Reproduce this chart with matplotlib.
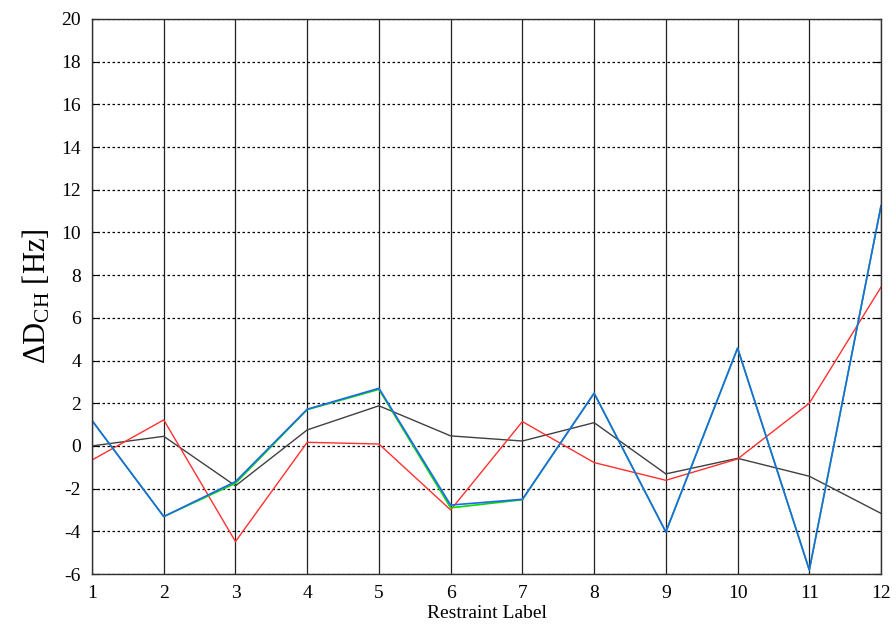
import matplotlib
matplotlib.use('Agg')
import matplotlib.pyplot as plt
import numpy as np

plt.rcParams['font.family'] = ['Liberation Serif', 'DejaVu Serif']
plt.rcParams['mathtext.fontset'] = 'custom'
plt.rcParams['mathtext.rm'] = 'Liberation Serif'
plt.rcParams['mathtext.it'] = 'Liberation Serif:italic'
plt.rcParams['axes.unicode_minus'] = False

labels = np.arange(1, 13)
# four data sets per restraint
black = [0.0, 0.45, -1.87, 0.75, 1.88, 0.47, 0.23, 1.09, -1.31, -0.58, -1.42, -3.16]
red = [-0.66, 1.22, -4.48, 0.17, 0.09, -3.0, 1.14, -0.78, -1.61, -0.61, 2.0, 7.44]
green = [1.19, -3.31, -1.75, 1.70, 2.65, -2.90, -2.52, 2.47, -4.03, 4.58, -5.81, 11.25]
blue = [1.19, -3.31, -1.67, 1.72, 2.70, -2.77, -2.50, 2.47, -4.03, 4.58, -5.81, 11.25]

fig = plt.figure(figsize=(8.96, 6.24), dpi=100)
ax = fig.add_axes([0.1027, 0.0801, 0.8806, 0.8895])

ax.plot(labels, black, color='#404040', lw=1.0)
ax.plot(labels, red, color='#ff3030', lw=1.0)
ax.plot(labels, green, color='#00dd00', lw=1.2)
ax.plot(labels, blue, color='#2266ee', lw=1.2)

ax.set_xlim(1, 12)
ax.set_ylim(-6, 20)
ax.set_xticks(labels)
ax.set_yticks(np.arange(-6, 21, 2))
ax.xaxis.grid(True, linestyle='-', color='#202020', lw=0.9)
ax.yaxis.grid(True, linestyle=(0, (2, 2)), color='black', lw=0.9)
ax.set_axisbelow(True)
ax.tick_params(axis='y', right=True, direction='in', length=5, labelsize=14, pad=8)
ax.tick_params(axis='x', direction='in', length=0, labelsize=14, pad=8)
for s in ax.spines.values():
    s.set_color('#303030')
    s.set_linewidth(1.0)

ax.set_xlabel('Restraint Label', fontsize=14, labelpad=2)
ax.set_ylabel(r'$\Delta\mathrm{D}_{\mathrm{CH}}$ [Hz]', fontsize=22, labelpad=6)

plt.savefig('out.png', dpi=100)
